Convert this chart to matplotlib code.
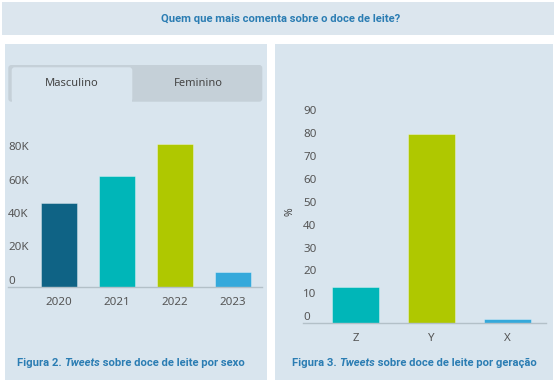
import matplotlib
matplotlib.use("Agg")
import matplotlib.pyplot as plt
from matplotlib.patches import FancyBboxPatch, Rectangle
from matplotlib.text import Annotation
from matplotlib.transforms import Affine2D

W, H = 559, 382

# dados
anos = ["2020", "2021", "2022", "2023"]
tweets_sexo = [50300, 66400, 85400, 9100]
cores_sexo = ["#0f6385", "#00b6b8", "#afc800", "#35a9db"]
yticks_sexo = [0, 20000, 40000, 60000, 80000]
yticklabels_sexo = ["0", "20K", "40K", "60K", "80K"]

geracoes = ["Z", "Y", "X"]
pct_geracao = [15.7, 82.7, 1.9]
cores_geracao = ["#00b6b8", "#afc800", "#35a9db"]
yticks_geracao = [0, 10, 20, 30, 40, 50, 60, 70, 80, 90]

titulo = "Quem que mais comenta sobre o doce de leite?"
abas = ["Masculino", "Feminino"]
cap2 = [("Figura 2. ", "normal"), ("Tweets", "italic"),
        (" sobre doce de leite por sexo", "normal")]
cap3 = [("Figura 3. ", "normal"), ("Tweets", "italic"),
        (" sobre doce de leite por geração", "normal")]

AZUL = "#2b7db3"
PAINEL = "#d9e5ee"
CINZA_ABA = "#c5d0d8"
TXT = "#555555"

plt.rcParams["font.family"] = ["Noto Sans", "DejaVu Sans"]

fig = plt.figure(figsize=(W / 100, H / 100), dpi=100)
fig.patch.set_facecolor("white")

# pixel coords, origin top-left
pix = Affine2D().scale(1 / W, -1 / H).translate(0, 1) + fig.transFigure


def rect(x0, y0, x1, y1, color, r=0):
    if r:
        p = FancyBboxPatch((x0, y0), x1 - x0, y1 - y0,
                           boxstyle="round,pad=0,rounding_size=%s" % r,
                           transform=pix, facecolor=color, edgecolor="none")
    else:
        p = Rectangle((x0, y0), x1 - x0, y1 - y0, transform=pix,
                      facecolor=color, edgecolor="none")
    p.set_zorder(-5)
    fig.add_artist(p)


def ax_rect(x0, y0, x1, y1):
    return [x0 / W, 1 - y1 / H, (x1 - x0) / W, (y1 - y0) / H]


# fundos
rect(2, 2, 554, 35, "#dce6ee")
rect(5, 44, 267, 380, PAINEL)
rect(275, 44, 553, 380, PAINEL)

fig.text(281 / W, 1 - 18.5 / H, titulo, ha="center", va="center",
         color=AZUL, fontsize=8.1, fontweight="bold", family="Roboto")

# abas
rect(8.3, 65, 262.3, 101.7, CINZA_ABA, r=3)
rect(11.7, 67.3, 132.3, 101.7, PAINEL, r=3)
rect(11.7, 80, 132.3, 101.7, PAINEL)
fig.text(72 / W, 1 - 83.5 / H, abas[0], ha="center", va="center",
         color="#444444", fontsize=8)
fig.text(198 / W, 1 - 83.5 / H, abas[1], ha="center", va="center",
         color="#444444", fontsize=8)


def estilo(ax, yticks, ylabels):
    ax.set_zorder(2)
    ax.set_facecolor("none")
    for s in ["top", "left", "right"]:
        ax.spines[s].set_visible(False)
    ax.spines["bottom"].set_color("#b3c0c8")
    ax.spines["bottom"].set_linewidth(1)
    ax.set_yticks(yticks)
    ax.set_yticklabels(ylabels)
    ax.tick_params(axis="y", length=0, pad=0, labelsize=8.3, labelcolor=TXT)
    ax.tick_params(axis="x", length=0, pad=7, labelsize=8.3, labelcolor=TXT)
    for lab in ax.get_yticklabels():
        lab.set_horizontalalignment("left")
        lab.set_verticalalignment("bottom")


# grafico por sexo
ax1 = fig.add_axes(ax_rect(8.3, 119.5, 262.3, 287))
ax1.bar(range(len(anos)), tweets_sexo, width=0.62, color=cores_sexo,
        edgecolor=(1, 1, 1, 0.35), linewidth=0.7)
ax1.set_xlim(-0.866, 3.5)
ax1.set_ylim(0, 100000)
ax1.set_xticks(range(len(anos)))
ax1.set_xticklabels(anos)
estilo(ax1, yticks_sexo, yticklabels_sexo)

# grafico por geracao
ax2 = fig.add_axes(ax_rect(303.3, 94.3, 546, 323.3))
ax2.bar(range(len(geracoes)), pct_geracao, width=0.615, color=cores_geracao,
        edgecolor=(1, 1, 1, 0.35), linewidth=0.7)
ax2.set_xlim(-0.69, 2.507)
ax2.set_ylim(0, 100)
ax2.set_xticks(range(len(geracoes)))
ax2.set_xticklabels(geracoes)
estilo(ax2, yticks_geracao, [str(v) for v in yticks_geracao])
fig.text(290 / W, 1 - 212 / H, "%", rotation=90, ha="center", va="center",
         color="#444444", fontsize=7.5)


def cadeia(x, y, partes):
    prev = fig.text(x / W, 1 - y / H, partes[0][0], ha="left", va="bottom",
                    color=AZUL, fontsize=8.1, fontweight="bold",
                    family="Roboto", style=partes[0][1])
    for txt, st in partes[1:]:
        prev = fig.add_artist(Annotation(
            txt, xy=(1, 0), xycoords=prev, ha="left", va="bottom",
            color=AZUL, fontsize=8.1, fontweight="bold", family="Roboto",
            style=st))


cadeia(17, 368, cap2)
cadeia(292, 368, cap3)

fig.savefig("out.png", dpi=100, facecolor="white")
